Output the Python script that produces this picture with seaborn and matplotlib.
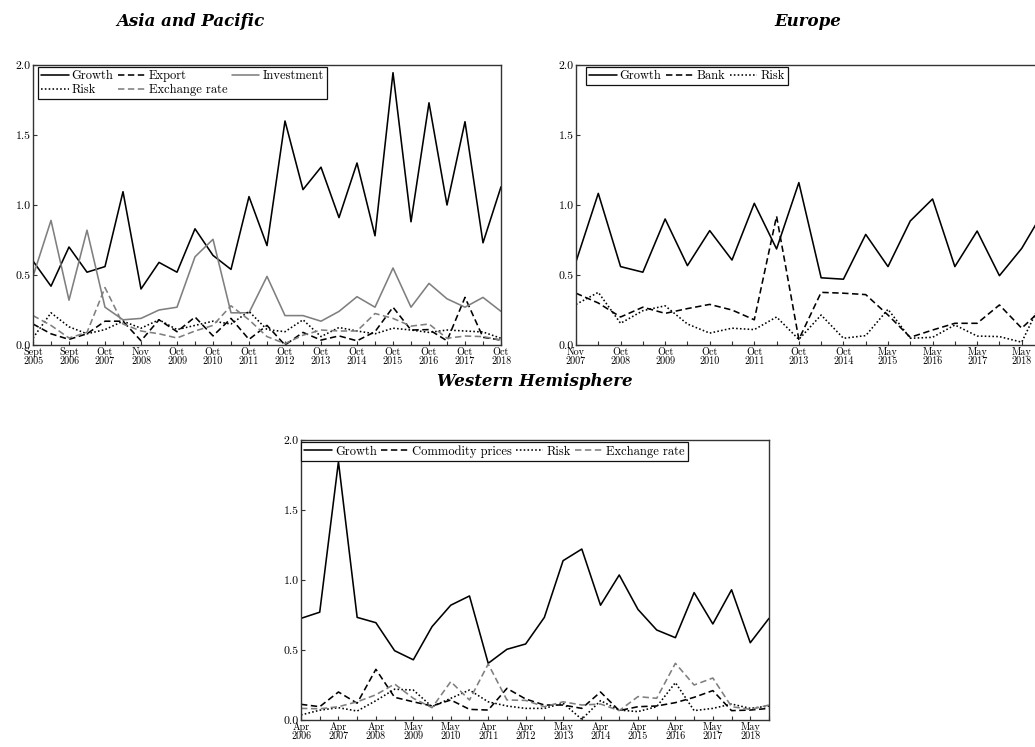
import numpy as np
import matplotlib
matplotlib.use("Agg")
import matplotlib.pyplot as plt
import seaborn as sns

# ---------------- data ----------------
asia_labels = ["Sept\n2005", "Sept\n2006", "Oct\n2007", "Nov\n2008", "Oct\n2009", "Oct\n2010",
               "Oct\n2011", "Oct\n2012", "Oct\n2013", "Oct\n2014", "Oct\n2015", "Oct\n2016",
               "Oct\n2017", "Oct\n2018"]
asia_growth = [0.60, 0.42, 0.70, 0.52, 0.56, 1.095, 0.40, 0.59, 0.52, 0.83, 0.64, 0.54, 1.06, 0.71,
               1.60, 1.11, 1.27, 0.91, 1.30, 0.78, 1.945, 0.88, 1.73, 1.00, 1.595, 0.73, 1.13]
asia_export = [0.15, 0.08, 0.04, 0.08, 0.17, 0.17, 0.03, 0.18, 0.095, 0.20, 0.065, 0.19, 0.04, 0.14,
               0.0, 0.09, 0.035, 0.065, 0.03, 0.095, 0.27, 0.107, 0.11, 0.03, 0.34, 0.055, 0.035]
asia_investment = [0.49, 0.89, 0.32, 0.82, 0.27, 0.18, 0.19, 0.25, 0.27, 0.63, 0.755, 0.23, 0.23, 0.49,
                   0.21, 0.21, 0.17, 0.24, 0.345, 0.27, 0.55, 0.27, 0.44, 0.33, 0.27, 0.34, 0.24]
asia_risk = [0.05, 0.23, 0.13, 0.08, 0.11, 0.17, 0.12, 0.18, 0.11, 0.14, 0.17, 0.15, 0.24, 0.11,
             0.095, 0.18, 0.06, 0.125, 0.10, 0.08, 0.12, 0.107, 0.09, 0.107, 0.10, 0.093, 0.048]
asia_exchange = [0.21, 0.14, 0.05, 0.09, 0.41, 0.15, 0.10, 0.08, 0.05, 0.10, 0.14, 0.28, 0.18, 0.06,
                 0.01, 0.07, 0.107, 0.10, 0.10, 0.225, 0.19, 0.135, 0.15, 0.048, 0.064, 0.06, 0.035]

europe_labels = ["Nov\n2007", "Oct\n2008", "Oct\n2009", "Oct\n2010", "Oct\n2011", "Oct\n2013",
                 "Oct\n2014", "May\n2015", "May\n2016", "May\n2017", "May\n2018"]
europe_growth = [0.595, 1.083, 0.56, 0.52, 0.90, 0.567, 0.817, 0.607, 1.012, 0.686, 1.16,
                 0.48, 0.47, 0.79, 0.56, 0.886, 1.043, 0.56, 0.814, 0.495, 0.69, 0.96]
europe_bank = [0.37, 0.30, 0.20, 0.27, 0.226, 0.26, 0.29, 0.25, 0.18, 0.92, 0.04,
               0.376, 0.37, 0.36, 0.214, 0.055, 0.107, 0.155, 0.155, 0.286, 0.12, 0.27]
europe_risk = [0.29, 0.376, 0.155, 0.245, 0.28, 0.15, 0.085, 0.12, 0.11, 0.20, 0.04,
               0.214, 0.048, 0.067, 0.255, 0.048, 0.055, 0.143, 0.064, 0.06, 0.02, 0.35]

wh_labels = ["Apr\n2006", "Apr\n2007", "Apr\n2008", "May\n2009", "May\n2010", "Apr\n2011",
             "Apr\n2012", "May\n2013", "Apr\n2014", "Apr\n2015", "Apr\n2016", "May\n2017", "May\n2018"]
wh_growth = [0.726, 0.77, 1.845, 0.733, 0.695, 0.495, 0.43, 0.667, 0.82, 0.886, 0.405, 0.505, 0.543,
             0.733, 1.138, 1.221, 0.82, 1.036, 0.79, 0.643, 0.588, 0.91, 0.686, 0.93, 0.552, 0.726]
wh_commodity = [0.112, 0.095, 0.20, 0.12, 0.362, 0.162, 0.13, 0.10, 0.143, 0.076, 0.071, 0.226, 0.15,
                0.107, 0.107, 0.083, 0.20, 0.067, 0.095, 0.10, 0.124, 0.162, 0.21, 0.067, 0.071, 0.083]
wh_risk = [0.036, 0.07, 0.088, 0.064, 0.138, 0.22, 0.214, 0.095, 0.155, 0.214, 0.13, 0.10, 0.083,
           0.083, 0.12, 0.005, 0.138, 0.071, 0.06, 0.095, 0.267, 0.067, 0.083, 0.114, 0.083, 0.10]
wh_exchange = [0.083, 0.08, 0.095, 0.13, 0.18, 0.257, 0.155, 0.088, 0.274, 0.143, 0.40, 0.143, 0.14,
               0.095, 0.13, 0.107, 0.114, 0.067, 0.167, 0.155, 0.405, 0.25, 0.30, 0.095, 0.076, 0.107]

y_ticks = [0.0, 0.5, 1.0, 1.5, 2.0]

# ---------------- style ----------------
sns.set_style("ticks")
plt.rcParams["font.family"] = ["cmr10", "DejaVu Serif"]
plt.rcParams["mathtext.fontset"] = "cm"
plt.rcParams["axes.unicode_minus"] = False
plt.rcParams["axes.formatter.use_mathtext"] = True
plt.rcParams["text.color"] = "black"
plt.rcParams["xtick.color"] = "black"
plt.rcParams["ytick.color"] = "black"

SOLID = "-"
DASH = (0, (4.0, 2.2))
DOT = (0, (1.0, 1.4))
BLACK = "#000000"
GREY = "#7f7f7f"

fig = plt.figure(figsize=(10.35, 7.47), dpi=100)
W = 468 / 1035
H = 280 / 747
ax_asia = fig.add_axes([33 / 1035, (747 - 345) / 747, W, H])
ax_eu = fig.add_axes([576 / 1035, (747 - 345) / 747, W, H])
ax_wh = fig.add_axes([301 / 1035, (747 - 720) / 747, W, H])


def draw(ax, series, labels):
    lines = []
    for vals, lab, col, ls in series:
        x = np.arange(len(vals))
        sns.lineplot(x=x, y=vals, ax=ax, color=col, linestyle=ls, linewidth=1.15,
                     legend=False, label=lab)
        lines.append(ax.lines[-1])
    n = len(series[0][0])
    ax.set_xlim(0, n - 1)
    ax.set_ylim(0, 2.0)
    ax.set_xticks(np.arange(n))
    xt = []
    for i in range(n):
        xt.append(labels[i // 2] if (i % 2 == 0 and i // 2 < len(labels)) else "")
    ax.set_xticklabels(xt, fontsize=7.3, linespacing=0.95)
    ax.set_yticks(y_ticks)
    ax.set_yticklabels([f"{v:.1f}" for v in y_ticks], fontsize=8.5)
    ax.tick_params(axis="both", direction="in", length=3, width=0.8, color="#333333", pad=1.5)
    ax.tick_params(axis="x", pad=1.5)
    for s in ax.spines.values():
        s.set_visible(True)
        s.set_linewidth(1.0)
        s.set_color("#333333")
    ax.set_xlabel("")
    ax.set_ylabel("")
    return lines


leg_kw = dict(loc="upper left", fontsize=9.0, frameon=True, fancybox=False, edgecolor="#111111",
              framealpha=1, handlelength=2.2, handletextpad=0.25, columnspacing=0.35,
              borderpad=0.25, labelspacing=0.15, borderaxespad=0.0)

l = draw(ax_asia, [(asia_growth, "Growth", BLACK, SOLID),
                   (asia_export, "Export", BLACK, DASH),
                   (asia_investment, "Investment", GREY, SOLID),
                   (asia_risk, "Risk", BLACK, DOT),
                   (asia_exchange, "Exchange rate", GREY, DASH)], asia_labels)
lg = ax_asia.legend(handles=[l[0], l[3], l[1], l[4], l[2]], ncol=3,
                    bbox_to_anchor=(5 / 468, 1 - 2 / 280), **leg_kw)
lg.get_frame().set_linewidth(0.9)

l = draw(ax_eu, [(europe_growth, "Growth", BLACK, SOLID),
                 (europe_bank, "Bank", BLACK, DASH),
                 (europe_risk, "Risk", BLACK, DOT)], europe_labels)
lg = ax_eu.legend(handles=l, ncol=3, bbox_to_anchor=(10 / 468, 1 - 2 / 280), **leg_kw)
lg.get_frame().set_linewidth(0.9)

l = draw(ax_wh, [(wh_growth, "Growth", BLACK, SOLID),
                 (wh_commodity, "Commodity prices", BLACK, DASH),
                 (wh_risk, "Risk", BLACK, DOT),
                 (wh_exchange, "Exchange rate", GREY, DASH)], wh_labels)
lg = ax_wh.legend(handles=l, ncol=4, bbox_to_anchor=(0.0, 1 - 2 / 280), **leg_kw)
lg.get_frame().set_linewidth(0.9)

title_kw = dict(family="DejaVu Serif", weight="bold", style="italic", fontsize=12,
                ha="center", va="center", color="black")
fig.text(190 / 1035, 1 - 22 / 747, "Asia and Pacific", **title_kw)
fig.text(808 / 1035, 1 - 22 / 747, "Europe", **title_kw)
fig.text(535 / 1035, 1 - 382 / 747, "Western Hemisphere", **title_kw)

fig.savefig("out.png", dpi=100)
